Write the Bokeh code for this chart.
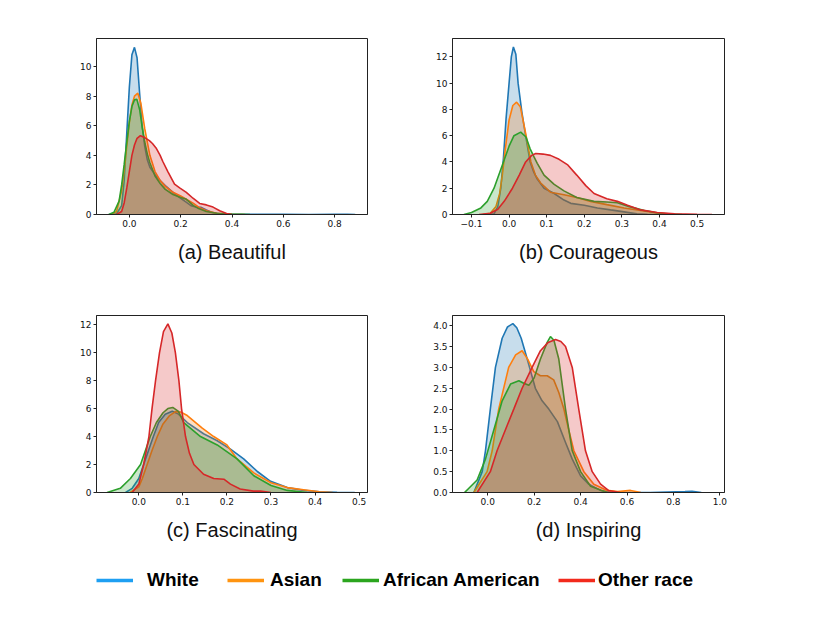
import numpy as np
from bokeh.plotting import figure
from bokeh.models import (Range1d, FixedTicker, Legend, LegendItem, ColumnDataSource)
from bokeh.layouts import column, row
from bokeh.embed import file_html
from bokeh.resources import INLINE

# ---------------- data ----------------
SERIES = ["White", "Asian", "African American", "Other race"]
LINE_COLORS = ["#1f77b4", "#ff7f0e", "#2ca02c", "#d62728"]
LEGEND_COLORS = ["#1E9FF2", "#FF9410", "#2BA51E", "#F22A1C"]

CAPTIONS = ["(a) Beautiful", "(b) Courageous", "(c) Fascinating", "(d) Inspiring"]

# (a) Beautiful
a_white_x = [-0.08, -0.05, -0.03, -0.02, -0.01, 0.0, 0.01, 0.02, 0.03, 0.04, 0.05, 0.06, 0.07, 0.08, 0.10, 0.12, 0.14, 0.16, 0.18, 0.20, 0.22, 0.24, 0.26, 0.28, 0.30, 0.32, 0.35, 0.40, 0.50, 0.60, 0.70, 0.80, 0.85, 0.88]
a_white_y = [0.0, 0.05, 0.6, 2.3, 5.5, 8.6, 10.8, 11.3, 10.6, 8.2, 6.0, 4.6, 3.7, 3.2, 2.7, 2.3, 1.95, 1.65, 1.35, 1.1, 0.85, 0.6, 0.5, 0.48, 0.3, 0.15, 0.05, 0.02, 0.01, 0.01, 0.0, 0.02, 0.02, 0.0]
a_asian_x = [-0.07, -0.05, -0.03, -0.02, -0.01, 0.0, 0.01, 0.02, 0.033, 0.045, 0.06, 0.07, 0.08, 0.10, 0.12, 0.14, 0.17, 0.20, 0.22, 0.25, 0.27, 0.30, 0.34, 0.39, 0.45]
a_asian_y = [0.0, 0.2, 1.6, 3.0, 4.6, 6.2, 7.4, 8.0, 8.2, 7.5, 5.8, 4.9, 4.0, 2.9, 2.3, 1.9, 1.5, 1.25, 1.05, 0.75, 0.5, 0.25, 0.08, 0.02, 0.0]
a_afam_x = [-0.08, -0.06, -0.04, -0.03, -0.02, -0.01, 0.0, 0.01, 0.02, 0.029, 0.04, 0.05, 0.06, 0.07, 0.08, 0.10, 0.12, 0.14, 0.17, 0.20, 0.22, 0.25, 0.27, 0.30, 0.34, 0.40, 0.47]
a_afam_y = [0.0, 0.15, 0.9, 2.0, 3.4, 4.9, 6.3, 7.3, 7.75, 7.8, 7.1, 5.9, 4.9, 4.1, 3.5, 2.6, 2.1, 1.7, 1.35, 1.15, 1.05, 0.6, 0.4, 0.2, 0.08, 0.03, 0.0]
a_other_x = [-0.05, -0.03, -0.02, -0.01, 0.0, 0.01, 0.02, 0.03, 0.043, 0.06, 0.078, 0.09, 0.104, 0.12, 0.13, 0.15, 0.176, 0.196, 0.222, 0.248, 0.274, 0.30, 0.326, 0.352, 0.379, 0.40]
a_other_y = [0.0, 0.2, 0.8, 1.8, 2.9, 4.0, 4.7, 5.15, 5.33, 5.2, 5.0, 4.8, 4.5, 4.0, 3.6, 2.9, 2.05, 1.8, 1.5, 1.1, 0.75, 0.65, 0.5, 0.25, 0.07, 0.0]

# (b) Courageous
b_white_x = [-0.06, -0.04, -0.03, -0.022, -0.015, -0.008, 0.0, 0.006, 0.0115, 0.018, 0.024, 0.034, 0.044, 0.056, 0.066, 0.075, 0.093, 0.12, 0.146, 0.164, 0.20, 0.235, 0.27, 0.306, 0.34, 0.368, 0.40]
b_white_y = [0.0, 0.05, 0.6, 2.0, 4.3, 7.3, 10.0, 12.0, 12.75, 12.2, 10.0, 7.8, 6.0, 4.0, 3.2, 2.7, 2.0, 1.6, 1.1, 0.85, 0.7, 0.5, 0.35, 0.2, 0.05, 0.01, 0.0]
b_asian_x = [-0.07, -0.05, -0.035, -0.025, -0.018, -0.01, 0.0, 0.01, 0.02, 0.03, 0.044, 0.058, 0.07, 0.084, 0.11, 0.146, 0.18, 0.217, 0.26, 0.306, 0.35, 0.394, 0.44]
b_asian_y = [0.0, 0.1, 0.6, 1.6, 3.0, 5.0, 7.2, 8.3, 8.55, 8.2, 6.2, 4.0, 3.0, 2.4, 1.7, 1.5, 1.3, 1.0, 0.75, 0.5, 0.3, 0.12, 0.0]
b_afam_x = [-0.12, -0.1, -0.075, -0.058, -0.04, -0.015, 0.0, 0.013, 0.031, 0.045, 0.056, 0.066, 0.075, 0.093, 0.12, 0.146, 0.18, 0.226, 0.26, 0.288, 0.32, 0.36, 0.40, 0.46]
b_afam_y = [0.0, 0.15, 0.5, 1.0, 2.0, 4.0, 5.2, 6.0, 6.27, 5.9, 5.0, 4.4, 3.9, 3.0, 2.3, 1.8, 1.3, 1.0, 0.95, 0.9, 0.6, 0.3, 0.1, 0.0]
b_other_x = [-0.08, -0.05, -0.03, -0.013, 0.009, 0.027, 0.044, 0.06, 0.071, 0.09, 0.11, 0.133, 0.155, 0.18, 0.204, 0.226, 0.26, 0.288, 0.315, 0.35, 0.394, 0.44, 0.50, 0.54]
b_other_y = [0.0, 0.1, 0.4, 1.0, 2.0, 3.0, 4.0, 4.5, 4.65, 4.6, 4.5, 4.2, 3.8, 3.0, 2.2, 1.6, 1.2, 1.0, 0.7, 0.35, 0.15, 0.05, 0.01, 0.0]

# (c) Fascinating
c_white_x = [-0.03, -0.015, 0.0, 0.011, 0.022, 0.033, 0.045, 0.06, 0.076, 0.09, 0.11, 0.147, 0.178, 0.208, 0.238, 0.269, 0.299, 0.337, 0.374, 0.41, 0.45, 0.49]
c_white_y = [0.0, 0.3, 1.0, 2.0, 3.0, 4.0, 5.0, 5.6, 5.8, 5.6, 5.0, 4.2, 3.7, 3.1, 2.4, 1.5, 0.8, 0.35, 0.15, 0.05, 0.02, 0.0]
c_asian_x = [-0.02, 0.0, 0.008, 0.019, 0.03, 0.042, 0.055, 0.07, 0.083, 0.095, 0.11, 0.144, 0.17, 0.20, 0.223, 0.261, 0.30, 0.337, 0.374, 0.41, 0.44]
c_asian_y = [0.0, 0.4, 1.0, 2.0, 3.0, 4.0, 4.9, 5.5, 5.78, 5.75, 5.5, 4.6, 4.0, 3.4, 2.4, 1.4, 0.7, 0.35, 0.2, 0.05, 0.0]
c_afam_x = [-0.072, -0.042, -0.019, 0.004, 0.015, 0.026, 0.04, 0.055, 0.066, 0.077, 0.09, 0.102, 0.14, 0.178, 0.223, 0.261, 0.30, 0.337, 0.382]
c_afam_y = [0.0, 0.3, 1.0, 2.0, 3.0, 4.0, 5.0, 5.7, 6.0, 6.08, 5.8, 5.0, 4.0, 3.4, 2.4, 1.2, 0.5, 0.15, 0.0]
c_other_x = [-0.015, 0.0, 0.011, 0.023, 0.03, 0.038, 0.047, 0.056, 0.066, 0.075, 0.083, 0.091, 0.097, 0.106, 0.115, 0.125, 0.147, 0.17, 0.193, 0.208, 0.23, 0.26, 0.276, 0.30]
c_other_y = [0.0, 0.6, 2.0, 4.0, 6.0, 8.0, 10.0, 11.5, 12.05, 11.4, 10.0, 8.0, 6.0, 4.0, 2.8, 2.0, 1.3, 1.0, 0.95, 0.6, 0.25, 0.1, 0.1, 0.0]

# (d) Inspiring
d_white_x = [-0.06, -0.024, -0.01, 0.011, 0.033, 0.062, 0.085, 0.108, 0.125, 0.144, 0.17, 0.205, 0.234, 0.263, 0.30, 0.335, 0.364, 0.40, 0.435, 0.486, 0.54, 0.70, 0.85, 0.88, 0.92]
d_white_y = [0.0, 0.5, 1.0, 2.0, 3.0, 3.7, 3.97, 4.05, 3.95, 3.7, 3.2, 2.5, 2.2, 2.0, 1.7, 1.2, 0.8, 0.4, 0.2, 0.05, 0.0, 0.0, 0.02, 0.03, 0.0]
d_asian_x = [-0.06, -0.003, 0.019, 0.047, 0.09, 0.12, 0.148, 0.172, 0.198, 0.227, 0.256, 0.284, 0.306, 0.328, 0.349, 0.371, 0.414, 0.457, 0.514, 0.56, 0.615, 0.66]
d_asian_y = [0.0, 0.5, 1.0, 2.0, 3.0, 3.3, 3.4, 3.2, 2.9, 2.8, 2.8, 2.7, 2.4, 2.0, 1.5, 1.0, 0.5, 0.2, 0.05, 0.02, 0.05, 0.0]
d_afam_x = [-0.1, -0.046, -0.01, 0.026, 0.062, 0.098, 0.134, 0.155, 0.177, 0.20, 0.227, 0.256, 0.27, 0.285, 0.306, 0.335, 0.364, 0.40, 0.443, 0.514]
d_afam_y = [0.0, 0.3, 0.8, 1.5, 2.2, 2.6, 2.68, 2.62, 2.57, 2.75, 3.2, 3.6, 3.74, 3.65, 3.2, 2.0, 1.0, 0.5, 0.15, 0.0]
d_other_x = [-0.046, 0.011, 0.04, 0.083, 0.112, 0.148, 0.191, 0.227, 0.26, 0.292, 0.315, 0.335, 0.364, 0.392, 0.421, 0.45, 0.486, 0.52, 0.57]
d_other_y = [0.0, 0.5, 1.0, 1.6, 2.0, 2.5, 3.0, 3.4, 3.6, 3.67, 3.62, 3.5, 3.0, 2.0, 1.0, 0.5, 0.2, 0.05, 0.0]

# axis limits and ticks
X_LIMITS = [(-0.128, 0.928), (-0.1505, 0.573), (-0.096, 0.519), (-0.152, 1.02)]
Y_LIMITS = [(0, 11.9), (0, 13.4), (0, 12.65), (0, 4.245)]
X_TICKS = [[0.0, 0.2, 0.4, 0.6, 0.8],
           [-0.1, 0.0, 0.1, 0.2, 0.3, 0.4, 0.5],
           [0.0, 0.1, 0.2, 0.3, 0.4, 0.5],
           [0.0, 0.2, 0.4, 0.6, 0.8, 1.0]]
X_TICK_LABELS = [["0.0", "0.2", "0.4", "0.6", "0.8"],
                 ["\u22120.1", "0.0", "0.1", "0.2", "0.3", "0.4", "0.5"],
                 ["0.0", "0.1", "0.2", "0.3", "0.4", "0.5"],
                 ["0.0", "0.2", "0.4", "0.6", "0.8", "1.0"]]
Y_TICKS = [[0, 2, 4, 6, 8, 10],
           [0, 2, 4, 6, 8, 10, 12],
           [0, 2, 4, 6, 8, 10, 12],
           [0.0, 0.5, 1.0, 1.5, 2.0, 2.5, 3.0, 3.5, 4.0]]
Y_TICK_LABELS = [["0", "2", "4", "6", "8", "10"],
                 ["0", "2", "4", "6", "8", "10", "12"],
                 ["0", "2", "4", "6", "8", "10", "12"],
                 ["0.0", "0.5", "1.0", "1.5", "2.0", "2.5", "3.0", "3.5", "4.0"]]

PANELS = [
    [(a_white_x, a_white_y), (a_asian_x, a_asian_y), (a_afam_x, a_afam_y), (a_other_x, a_other_y)],
    [(b_white_x, b_white_y), (b_asian_x, b_asian_y), (b_afam_x, b_afam_y), (b_other_x, b_other_y)],
    [(c_white_x, c_white_y), (c_asian_x, c_asian_y), (c_afam_x, c_afam_y), (c_other_x, c_other_y)],
    [(d_white_x, d_white_y), (d_asian_x, d_asian_y), (d_afam_x, d_afam_y), (d_other_x, d_other_y)],
]

# ---------------- layout geometry ----------------
GEOM = [
    dict(width=387, height=300, min_border_left=96, min_border_right=20, min_border_top=38, min_border_bottom=86),
    dict(width=357, height=300, min_border_left=65, min_border_right=20, min_border_top=38, min_border_bottom=86),
    dict(width=387, height=265, min_border_left=96, min_border_right=20, min_border_top=15, min_border_bottom=73),
    dict(width=357, height=265, min_border_left=65, min_border_right=20, min_border_top=15, min_border_bottom=73),
]

figs = []
for i in range(4):
    g = GEOM[i]
    p = figure(output_backend="svg", toolbar_location=None,
               x_range=Range1d(*X_LIMITS[i]), y_range=Range1d(*Y_LIMITS[i]),
               **g)
    p.grid.visible = False
    p.background_fill_color = "white"
    p.border_fill_color = "white"
    p.outline_line_color = "#222222"
    p.outline_line_width = 1
    for ax in (p.xaxis[0], p.yaxis[0]):
        ax.axis_line_color = "#222222"
        ax.major_tick_line_color = "#222222"
        ax.major_tick_out = 3
        ax.major_tick_in = 0
        ax.minor_tick_line_color = None
        ax.major_label_text_font = "DejaVu Sans"
        ax.major_label_text_font_size = "9px"
        ax.major_label_text_color = "#111111"
        ax.major_label_standoff = 2
    p.xaxis.ticker = FixedTicker(ticks=X_TICKS[i])
    p.yaxis.ticker = FixedTicker(ticks=Y_TICKS[i])
    p.xaxis.major_label_overrides = dict(zip(X_TICKS[i], X_TICK_LABELS[i]))
    p.yaxis.major_label_overrides = dict(zip(Y_TICKS[i], Y_TICK_LABELS[i]))
    p.xaxis.axis_label = CAPTIONS[i]
    p.xaxis.axis_label_text_font = "Liberation Sans"
    p.xaxis.axis_label_text_font_style = "normal"
    p.xaxis.axis_label_text_font_size = "20px"
    p.xaxis.axis_label_text_color = "#111111"
    p.xaxis.axis_label_standoff = 11

    for (xs, ys), col in zip(PANELS[i], LINE_COLORS):
        src = ColumnDataSource(dict(x=xs, y=ys, y0=[0] * len(xs)))
        p.varea(x="x", y1="y0", y2="y", source=src, fill_color=col, fill_alpha=0.25)
        p.line(x="x", y="y", source=src, line_color=col, line_width=1.6)
    figs.append(p)

# ---------------- legend strip ----------------
leg = figure(output_backend="svg", toolbar_location=None, width=744, height=40,
             min_border=0, x_range=Range1d(0, 1), y_range=Range1d(0, 1))
leg.axis.visible = False
leg.grid.visible = False
leg.outline_line_color = None

LEG_X = [96, 227, 342, 558]
LEG_STANDOFF = [14, 6, 4, 3]
for name, col, lx, so in zip(SERIES, LEGEND_COLORS, LEG_X, LEG_STANDOFF):
    # placeholder (NaN) data: the renderer only supplies the legend's line style
    r = leg.line(x=np.array([np.nan]), y=np.array([np.nan]), line_color=col, line_width=3.5)
    lg = Legend(items=[LegendItem(label=name, renderers=[r])], location=(lx, 14),
                orientation="horizontal", padding=0, margin=0, spacing=0,
                border_line_alpha=0, background_fill_alpha=0,
                glyph_width=37, glyph_height=20, label_height=20, label_standoff=so,
                label_text_font="Liberation Sans", label_text_font_style="bold",
                label_text_font_size="19px", label_text_color="#000000")
    leg.add_layout(lg)

layout = column(row(figs[0], figs[1]), row(figs[2], figs[3]), leg)

open("out.html", "w").write(file_html(layout, INLINE))
